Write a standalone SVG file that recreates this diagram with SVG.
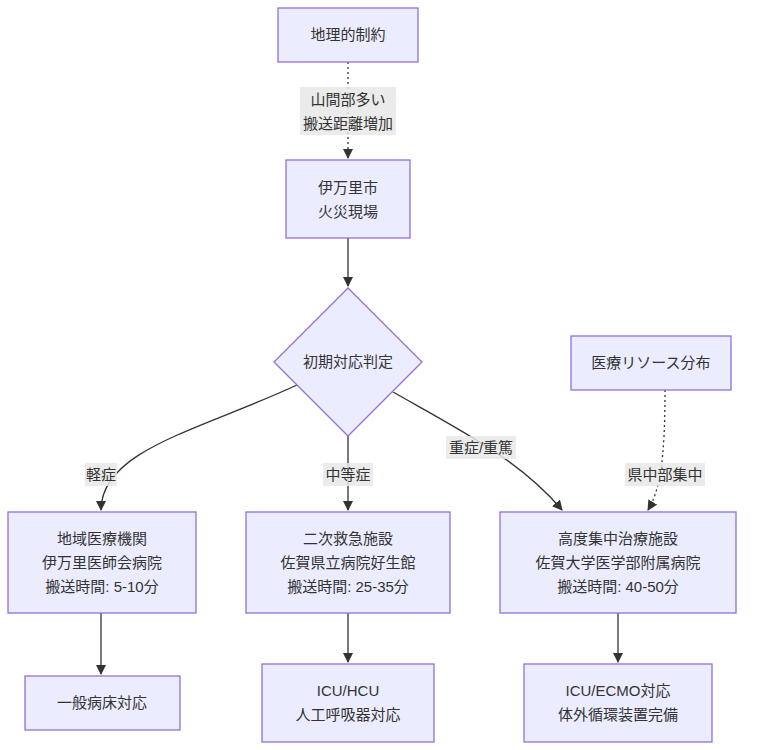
<svg xmlns="http://www.w3.org/2000/svg" width="767" height="750" viewBox="0 0 767 750">
<style>
.n{fill:#ECECFF;stroke:#9370DB;stroke-width:1.3}
.t{font-family:"Liberation Sans","Noto Sans CJK JP",sans-serif;font-size:15px;fill:#333;text-anchor:middle}
.e{fill:none;stroke:#333;stroke-width:1.3}
.d{stroke-dasharray:2 3}
.lb{fill:#e8e8e8;opacity:0.85}
</style>
<defs><marker id="a" viewBox="0 0 10 10" refX="9" refY="5" markerWidth="8" markerHeight="8" orient="auto"><path d="M0,0L10,5L0,10z" fill="#333"/></marker></defs>
<rect width="767" height="750" fill="#fff"/>
<g id="edges">
<path class="e d" d="M348,62V158" marker-end="url(#a)"/>
<path class="e" d="M348,238V286" marker-end="url(#a)"/>
<path class="e" d="M297,385C200,430 101,450 101,510" marker-end="url(#a)"/>
<path class="e" d="M348,436V510" marker-end="url(#a)"/>
<path class="e" d="M393,392C460,430 520,460 562,510" marker-end="url(#a)"/>
<path class="e d" d="M665,390C665,460 660,490 648,510" marker-end="url(#a)"/>
<path class="e" d="M101,613V674" marker-end="url(#a)"/>
<path class="e" d="M348,613V662" marker-end="url(#a)"/>
<path class="e" d="M618,613V662" marker-end="url(#a)"/>
<rect class="lb" x="300" y="87" width="96" height="48"/>
<text class="t" x="348" y="105">山間部多い</text><text class="t" x="348" y="129">搬送距離増加</text>
<rect class="lb" x="85" y="463" width="32" height="23"/><text class="t" x="101" y="480">軽症</text>
<rect class="lb" x="323" y="463" width="50" height="23"/><text class="t" x="348" y="480">中等症</text>
<rect class="lb" x="446" y="436" width="70" height="23"/><text class="t" x="481" y="453">重症/重篤</text>
<rect class="lb" x="625" y="463" width="80" height="23"/><text class="t" x="665" y="480">県中部集中</text>
</g>
<g id="n1"><rect class="n" x="278" y="8" width="140" height="54"/><text class="t" x="348" y="40">地理的制約</text></g>
<g id="n2"><rect class="n" x="286" y="160" width="124" height="78"/><text class="t" x="348" y="193">伊万里市</text><text class="t" x="348" y="217">火災現場</text></g>
<g id="n3"><polygon class="n" points="348,288 422,362 348,436 274,362"/><text class="t" x="348" y="367">初期対応判定</text></g>
<g id="n4"><rect class="n" x="571" y="336" width="160" height="54"/><text class="t" x="651" y="368">医療リソース分布</text></g>
<g id="n5"><rect class="n" x="8" y="512" width="188" height="101"/><text class="t" x="102" y="544">地域医療機関</text><text class="t" x="102" y="568">伊万里医師会病院</text><text class="t" x="102" y="592">搬送時間: 5-10分</text></g>
<g id="n6"><rect class="n" x="246" y="512" width="204" height="101"/><text class="t" x="348" y="544">二次救急施設</text><text class="t" x="348" y="568">佐賀県立病院好生館</text><text class="t" x="348" y="592">搬送時間: 25-35分</text></g>
<g id="n7"><rect class="n" x="500" y="512" width="236" height="101"/><text class="t" x="618" y="544">高度集中治療施設</text><text class="t" x="618" y="568">佐賀大学医学部附属病院</text><text class="t" x="618" y="592">搬送時間: 40-50分</text></g>
<g id="n8"><rect class="n" x="25" y="676" width="155" height="54"/><text class="t" x="102" y="708">一般病床対応</text></g>
<g id="n9"><rect class="n" x="262" y="664" width="172" height="78"/><text class="t" x="348" y="696">ICU/HCU</text><text class="t" x="348" y="720">人工呼吸器対応</text></g>
<g id="n10"><rect class="n" x="524" y="664" width="188" height="78"/><text class="t" x="618" y="696">ICU/ECMO対応</text><text class="t" x="618" y="720">体外循環装置完備</text></g>
</svg>
